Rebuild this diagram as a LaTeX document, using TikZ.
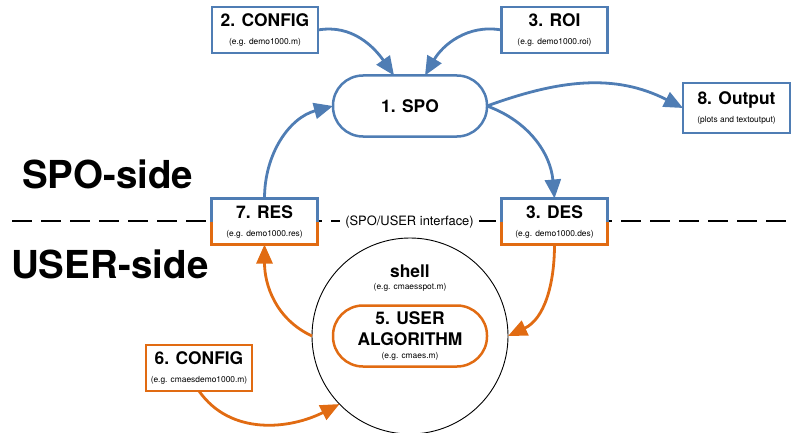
\documentclass[tikz,border=0pt]{standalone}
\usepackage{fontspec}
\setmainfont{TeX Gyre Heros}
\usepackage{xcolor}
\usepackage{tikz}
\usetikzlibrary{calc,arrows.meta}

\definecolor{spoblue}{RGB}{79,125,180}
\definecolor{userorange}{RGB}{225,107,18}
\newcommand{\ttl}{\fontsize{17.4}{18}\selectfont\bfseries}

\begin{document}
\begin{tikzpicture}[x=1pt, y=1pt,
    file/.style={draw=#1, line width=2.5pt, fill=white, minimum width=106pt, minimum height=46pt,
        align=center, inner sep=0pt, outer sep=0pt, font=\fontsize{8.4}{18}\selectfont},
    file/.default=spoblue,
    prog/.style={draw=#1, line width=2.5pt, fill=white, rounded corners=30pt, minimum width=154pt,
        minimum height=61pt, align=center, inner sep=0pt, outer sep=0pt, font=\fontsize{8.4}{13}\selectfont},
    flow/.style={#1, line width=2.8pt, -{Triangle[length=19pt,width=16pt]}}]
    \useasboundingbox (0,0) rectangle (794,-433);

    % SPO/USER interface
    \draw[line width=2.8pt, dash pattern=on 20pt off 9pt] (12,-221) -- (794,-221);
    \node[fill=white, inner xsep=5pt, font=\fontsize{12.9}{14}\selectfont] (iface) at (409.5,-222) {(SPO/USER interface)};
    \node[anchor=base west, inner sep=0pt, font=\fontsize{38.5}{40}\selectfont\bfseries] (sposide) at (22,-188) {SPO-side};
    \node[anchor=base west, inner sep=0pt, font=\fontsize{38.5}{40}\selectfont\bfseries] (userside) at (11,-278) {USER-side};

    % SPO-side
    \node[file] (cfg) at (265,-30) {{\ttl 2. CONFIG}\\(e.g. demo1000.m)};
    \node[file] (roi) at (554.5,-30) {{\ttl 3. ROI}\\(e.g. demo1000.roi)};
    \node[prog=spoblue] (spo) at (410,-106) {\ttl 1. SPO};
    \node[file, minimum width=107pt, minimum height=50pt] (out) at (736.5,-108) {{\ttl 8. Output}\\(plots and textoutput)};

    % shared files, half blue half orange
    \node[file, draw=none] (res) at (264.5,-221.5) {{\ttl 7. RES}\\(e.g. demo1000.res)};
    \node[file, draw=none] (des) at (554.5,-221.5) {{\ttl 3. DES}\\(e.g. demo1000.des)};
    \foreach \f in {res,des} {
        \draw[spoblue, line width=2.5pt] (\f.west) |- (\f.north) -| (\f.east);
        \draw[userorange, line width=2.5pt] (\f.west) |- (\f.south) -| (\f.east);
    }

    % USER-side
    \node[circle, draw, line width=0.9pt, minimum size=196pt, inner sep=0pt, outer sep=0pt] (shell) at (410,-336) {};
    \node[align=center, font=\fontsize{8.4}{12}\selectfont] (shelllbl) at (410,-278) {{\ttl shell}\\(e.g. cmaesspot.m)};
    \node[prog=userorange] (alg) at (410,-336) {{\ttl 5. USER}\\[7pt]{\ttl ALGORITHM}\\(e.g. cmaes.m)};
    \node[file=userorange] (ucfg) at (199,-368) {{\ttl 6. CONFIG}\\(e.g. cmaesdemo1000.m)};

    % arrows
    \draw[flow=spoblue] (cfg.east) to[out=10,in=125] ([xshift=-16pt]spo.north);
    \draw[flow=spoblue] (roi.west) to[out=170,in=60] ([xshift=15pt]spo.north);
    \draw[flow=spoblue] (res.north) to[out=90,in=195] (spo.west);
    \draw[flow=spoblue] (spo.east) to[out=-20,in=95] (des.north);
    \draw[flow=spoblue] (spo.east) to[out=20,in=153] (out.west);
    \draw[flow=userorange] (des.south) to[out=-90,in=25] (shell.east);
    \draw[flow=userorange] (shell.west) to[out=155,in=-90] (res.south);
    \draw[flow=userorange] (ucfg.south) to[out=-55,in=207] (shell.224);
\end{tikzpicture}
\end{document}
